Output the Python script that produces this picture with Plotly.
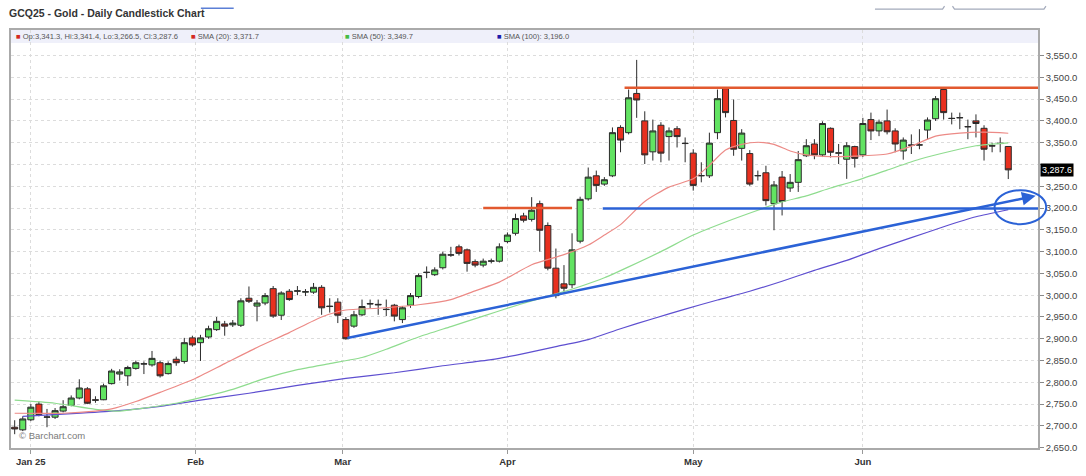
import plotly.graph_objects as go

# ---------------- data ----------------
opens = [2697, 2691, 2714, 2750, 2720, 2720, 2734, 2747, 2764, 2785,
         2760, 2760, 2797, 2819, 2815, 2832, 2842, 2840, 2845, 2820,
         2853, 2848, 2902, 2891, 2904, 2921, 2934, 2932, 2931, 2993,
         2975, 2982, 3015, 2954, 3009, 3009, 3007, 3007, 3018, 2975,
         2984, 2944, 2929, 2955, 2981, 2979, 2967, 2977, 2944, 2977,
         2997, 3052, 3047, 3063, 3092, 3111, 3104, 3077, 3069, 3078,
         3078, 3123, 3142, 3182, 3174, 3210, 3160, 3062, 3026, 3024,
         3124, 3221, 3274, 3255, 3274, 3385, 3373, 3463, 3400, 3329,
         3390, 3364, 3382, 3348, 3326, 3274, 3274, 3373, 3474, 3401,
         3337, 3325, 3274, 3281, 3210, 3271, 3246, 3259, 3320, 3347,
         3322, 3383, 3326, 3312, 3341, 3322, 3403, 3377, 3400, 3377,
         3331, 3344, 3344.5, 3379, 3405, 3472, 3406, 3407, 3387, 3400,
         3383, 3343, 3348, 3341.3]
highs = [2713, 2722, 2750, 2756, 2739, 2741, 2759, 2770, 2807, 2789,
         2768, 2797, 2831, 2830, 2838, 2850, 2848, 2872, 2850, 2848,
         2859, 2902, 2907, 2909, 2930, 2950, 2941, 2943, 2993, 3020,
         2989, 3005, 3021, 3009, 3014, 3021, 3014, 3028, 3023, 2993,
         2993, 2950, 2964, 2990, 2990, 2990, 2990, 2980, 2975, 3005,
         3050, 3066, 3064, 3100, 3111, 3116, 3107, 3082, 3084, 3084,
         3119, 3144, 3187, 3189, 3225, 3217, 3167, 3107, 3069, 3142,
         3226, 3293, 3286, 3271, 3385, 3390, 3472, 3540, 3422, 3403,
         3397, 3385, 3388, 3362, 3335, 3305, 3373, 3472, 3476, 3449,
         3381, 3333, 3286, 3297, 3262, 3285, 3278, 3331, 3358, 3358,
         3399, 3385, 3347, 3351, 3343, 3407, 3419, 3403, 3426, 3383,
         3362, 3369, 3381, 3408, 3457, 3476, 3419, 3419, 3403, 3415,
         3390, 3350, 3362, 3341.4]
lows = [2681, 2688, 2711, 2722, 2697, 2716, 2731, 2745, 2761, 2750,
        2753, 2759, 2795, 2804, 2792, 2829, 2819, 2836, 2811, 2818,
        2838, 2843, 2882, 2849, 2900, 2918, 2907, 2927, 2927, 2982,
        2940, 2977, 2948, 2943, 2987, 3000, 2998, 3003, 2955, 2960,
        2936, 2898, 2925, 2952, 2970, 2955, 2952, 2940, 2936, 2971,
        2993, 3039, 3044, 3059, 3088, 3091, 3054, 3064, 3064, 3073,
        3075, 3119, 3137, 3167, 3169, 3100, 3057, 2993, 3009, 3016,
        3119, 3217, 3237, 3251, 3271, 3328, 3369, 3407, 3301, 3309,
        3305, 3309, 3339, 3305, 3240, 3259, 3269, 3358, 3408, 3320,
        3309, 3251, 3263, 3206, 3149, 3183, 3237, 3237, 3317, 3312,
        3317, 3316, 3301, 3267, 3293, 3317, 3356, 3365, 3369, 3328,
        3311, 3324, 3335, 3358, 3400, 3403, 3392, 3381, 3358, 3362,
        3309, 3328, 3328, 3266.5]
closes = [2693, 2716, 2743, 2726, 2720.5, 2735, 2744, 2764, 2787, 2752,
          2759, 2792, 2826, 2824, 2834, 2845, 2842.5, 2855, 2815, 2843,
          2845, 2891, 2886, 2902, 2923, 2940, 2929, 2936, 2987, 2986,
          2982, 2999, 2952, 3005, 2990, 3010, 3008, 3018, 2971, 2974,
          2954, 2900, 2955, 2974, 2980, 2978, 2967.5, 2952, 2971, 2999,
          3045, 3052.5, 3058, 3094, 3092.5, 3096, 3073, 3069, 3078, 3078.5,
          3111, 3138, 3176, 3172, 3195, 3149, 3062, 2999, 3016, 3104,
          3220, 3271, 3252, 3265, 3373, 3356, 3453, 3448, 3322, 3377,
          3326, 3377, 3364, 3348.5, 3252, 3274.5, 3349, 3451, 3419, 3335,
          3372, 3255, 3274.5, 3217, 3253, 3215, 3259, 3311, 3343, 3322,
          3394, 3328, 3326.5, 3343, 3314, 3394, 3377, 3397, 3375, 3347,
          3356, 3344.5, 3345, 3402, 3451, 3419, 3405.5, 3407.5, 3386.5, 3394,
          3335, 3342.5, 3348.5, 3287.6]
bar_index = list(range(len(opens)))

sma20_idx = [0, 6, 10, 12, 15, 18, 22, 26, 30, 34, 38, 41, 45, 50, 54, 57, 60, 64,
             68, 71, 73, 75, 78, 81, 84, 86, 88, 90, 92, 94, 96, 98, 101, 104, 108,
             111, 114, 117, 120, 123]
sma20_val = [2729, 2729, 2734, 2739, 2756, 2777, 2806, 2843, 2880, 2914, 2950, 2966,
             2970, 2978, 2990, 3010, 3030, 3070, 3093, 3115, 3138, 3162, 3215, 3248,
             3267, 3298, 3333, 3346, 3351, 3346, 3331, 3322, 3318, 3319, 3324, 3342,
             3365, 3372, 3374, 3371.7]

sma50_idx = [0, 5, 10, 13, 16, 20, 23, 27, 31, 35, 39, 43, 46, 50, 54, 58, 61, 64,
             67, 70, 73, 76, 80, 84, 88, 92, 95, 98, 101, 104, 108, 112, 116, 119, 123]
sma50_val = [2759, 2752, 2738, 2734, 2741, 2752, 2765, 2784, 2809, 2829, 2843, 2857,
             2876, 2904, 2928, 2952, 2970, 2987, 3003, 3020, 3040, 3065, 3100, 3138,
             3168, 3195, 3214, 3228, 3246, 3262, 3287, 3312, 3331, 3343, 3349.7]

sma100_idx = [1, 6, 12, 18, 23, 29, 35, 41, 47, 53, 59, 63, 67, 71, 75, 79, 83, 87,
              91, 95, 99, 103, 107, 111, 115, 119, 123]
sma100_val = [2722, 2727, 2734, 2745, 2759, 2775, 2793, 2809, 2822, 2838, 2852, 2866,
              2882, 2898, 2923, 2946, 2968, 2989, 3009, 3032, 3057, 3080, 3107, 3132,
              3157, 3180, 3196.0]

tick_pos = [2, 22.4, 40.6, 61, 84, 105]
tick_labels = ["Jan 25", "Feb", "Mar", "Apr", "May", "Jun"]
price_ticks = list(range(2650, 3551, 50))

# hand-drawn analysis marks (bar index, price)
top_resistance = 3476
top_resistance_start = 75.5
april_resistance = 3200
april_resistance_span = [58, 69]
support_level = 3199
support_start = 72.8
trend_start = [41.0, 2901]
trend_end = [126.4, 3228]
circle_center = [124.5, 3202]
circle_radius = [3.2, 39]

X_RANGE = [-0.455, 126.68]
Y_RANGE = [2649.3, 3608.6]

# ---------------- geometry helpers ----------------
W, H = 1086, 476
ML, MR, MT, MB = 9, 44, 30, 25


def pxx(px):
    return (px - ML) / (W - ML - MR)


def pxy(py):
    return (H - MB - py) / (H - MT - MB)


def dx(i):
    return (i - X_RANGE[0]) / (X_RANGE[1] - X_RANGE[0])


def dy(v):
    return (v - Y_RANGE[0]) / (Y_RANGE[1] - Y_RANGE[0])


def fmt(v):
    return f"{v:,.1f}"


FONT = "Liberation Sans"
ORANGE = "#e2592f"
BLUE = "#2b62d6"

fig = go.Figure()

fig.add_trace(go.Scatter(x=sma100_idx, y=sma100_val, mode="lines",
                         line=dict(color="#5e4fd0", width=1.2, shape="spline", smoothing=0.6),
                         hoverinfo="skip"))
fig.add_trace(go.Scatter(x=sma50_idx, y=sma50_val, mode="lines",
                         line=dict(color="#8fdc8f", width=1.2, shape="spline", smoothing=0.6),
                         hoverinfo="skip"))
fig.add_trace(go.Scatter(x=sma20_idx, y=sma20_val, mode="lines",
                         line=dict(color="#ec8a86", width=1.2, shape="spline", smoothing=0.6),
                         hoverinfo="skip"))

fig.add_trace(go.Candlestick(
    x=bar_index, open=opens, high=highs, low=lows, close=closes,
    increasing=dict(fillcolor="#62e362", line=dict(color="#2b2b2b", width=1)),
    decreasing=dict(fillcolor="#e8301f", line=dict(color="#2b2b2b", width=1)),
    whiskerwidth=0, hoverinfo="skip"))

shapes = []
# legend strip
shapes.append(dict(type="rect", xref="paper", yref="paper", x0=0, x1=1,
                   y0=pxy(43), y1=1, fillcolor="#eff0fa", line=dict(width=0), layer="below"))
# analysis lines
shapes.append(dict(type="line", xref="x", yref="y", x0=top_resistance_start, x1=X_RANGE[1],
                   y0=top_resistance, y1=top_resistance, line=dict(color=ORANGE, width=2.5)))
shapes.append(dict(type="line", xref="x", yref="y", x0=april_resistance_span[0],
                   x1=april_resistance_span[1], y0=april_resistance, y1=april_resistance,
                   line=dict(color=ORANGE, width=2.5)))
shapes.append(dict(type="line", xref="x", yref="y", x0=support_start, x1=X_RANGE[1],
                   y0=support_level, y1=support_level, line=dict(color=BLUE, width=2.5)))
shapes.append(dict(type="circle", xref="paper", yref="paper",
                   x0=dx(circle_center[0] - circle_radius[0]),
                   x1=dx(circle_center[0] + circle_radius[0]),
                   y0=dy(circle_center[1] - circle_radius[1]),
                   y1=dy(circle_center[1] + circle_radius[1]),
                   line=dict(color=BLUE, width=2)))
# page chrome above the chart
shapes.append(dict(type="line", xref="paper", yref="paper", x0=pxx(200), x1=pxx(233),
                   y0=pxy(8), y1=pxy(8), line=dict(color="#5b7fd6", width=1.5)))
shapes.append(dict(type="path", xref="paper", yref="paper",
                   path=f"M {pxx(878)},{pxy(9)} L {pxx(946)},{pxy(9)} L {pxx(948)},{pxy(6)}",
                   line=dict(color="#a3aabb", width=1.2)))
shapes.append(dict(type="path", xref="paper", yref="paper",
                   path=f"M {pxx(956)},{pxy(6)} L {pxx(958)},{pxy(9)} L {pxx(1048)},{pxy(9)} L {pxx(1050)},{pxy(6)}",
                   line=dict(color="#a3aabb", width=1.2)))

annotations = []
annotations.append(dict(x=trend_end[0], y=trend_end[1], ax=trend_start[0], ay=trend_start[1],
                        xref="x", yref="y", axref="x", ayref="y", text="", showarrow=True,
                        arrowhead=2, arrowsize=1.1, arrowwidth=2.5, arrowcolor=BLUE, standoff=0))

annotations.append(dict(x=pxx(5), y=pxy(13), xref="paper", yref="paper", xanchor="left",
                        yanchor="middle", showarrow=False,
                        text="<b>GCQ25 - Gold - Daily Candlestick Chart</b>",
                        font=dict(family=FONT, size=10.5, color="#333333")))

legend_items = [
    (12, "#d42a1e", f"Op:{fmt(opens[-1])}, Hi:{fmt(highs[-1])}, Lo:{fmt(lows[-1])}, Cl:{fmt(closes[-1])}"),
    (188, "#d42a1e", f"SMA (20): {fmt(sma20_val[-1])}"),
    (343, "#44bb44", f"SMA (50): {fmt(sma50_val[-1])}"),
    (496, "#1c1caa", f"SMA (100): {fmt(sma100_val[-1])}"),
]
for px, col, txt in legend_items:
    annotations.append(dict(x=pxx(px), y=pxy(36.5), xref="paper", yref="paper", xanchor="left",
                            yanchor="middle", showarrow=False,
                            text=f"<span style='color:{col}'>■</span> {txt}",
                            font=dict(family=FONT, size=7.6, color="#555555")))

annotations.append(dict(x=pxx(15), y=pxy(438), xref="paper", yref="paper", xanchor="left",
                        yanchor="middle", showarrow=False, text="© Barchart.com",
                        font=dict(family=FONT, size=9.5, color="#7a7a7a")))

annotations.append(dict(x=1, y=closes[-1], xref="paper", yref="y", xanchor="left",
                        yanchor="middle", xshift=2, showarrow=False, text=fmt(closes[-1]),
                        bgcolor="#000000", borderpad=1,
                        font=dict(family=FONT, size=9, color="#ffffff")))

# the last-price tag covers the 3,300 label in the reference
price_ticktext = ["" if abs(v - closes[-1]) < 20 else fmt(v) for v in price_ticks]

fig.update_layout(
    width=W, height=H, autosize=False,
    margin=dict(l=ML, r=MR, t=MT, b=MB, pad=0),
    paper_bgcolor="white", plot_bgcolor="white",
    showlegend=False, boxgap=0.12, boxgroupgap=0.15,
    shapes=shapes, annotations=annotations,
    xaxis=dict(range=X_RANGE, rangeslider=dict(visible=False), tickmode="array",
               tickvals=tick_pos, ticktext=[f"<b>{t}</b>" for t in tick_labels],
               tickfont=dict(family=FONT, size=9.5, color="#333333"),
               showgrid=True, gridcolor="#dcdcdc", griddash="dot", gridwidth=1,
               showline=True, linecolor="#aaaaaa", linewidth=1.5, mirror=True,
               ticks="outside", ticklen=4, tickcolor="#999999", zeroline=False,
               fixedrange=True),
    yaxis=dict(range=Y_RANGE, side="right", tickmode="array", tickvals=price_ticks,
               ticktext=price_ticktext,
               tickfont=dict(family=FONT, size=9.5, color="#444444"),
               showgrid=True, gridcolor="#dcdcdc", griddash="dot", gridwidth=1,
               showline=True, linecolor="#aaaaaa", linewidth=1.5, mirror=True,
               ticks="outside", ticklen=4, tickcolor="#888888", zeroline=False,
               fixedrange=True),
)

fig.write_html("out.html", post_script="document.body.style.margin='0';",
               config={"displayModeBar": False})
